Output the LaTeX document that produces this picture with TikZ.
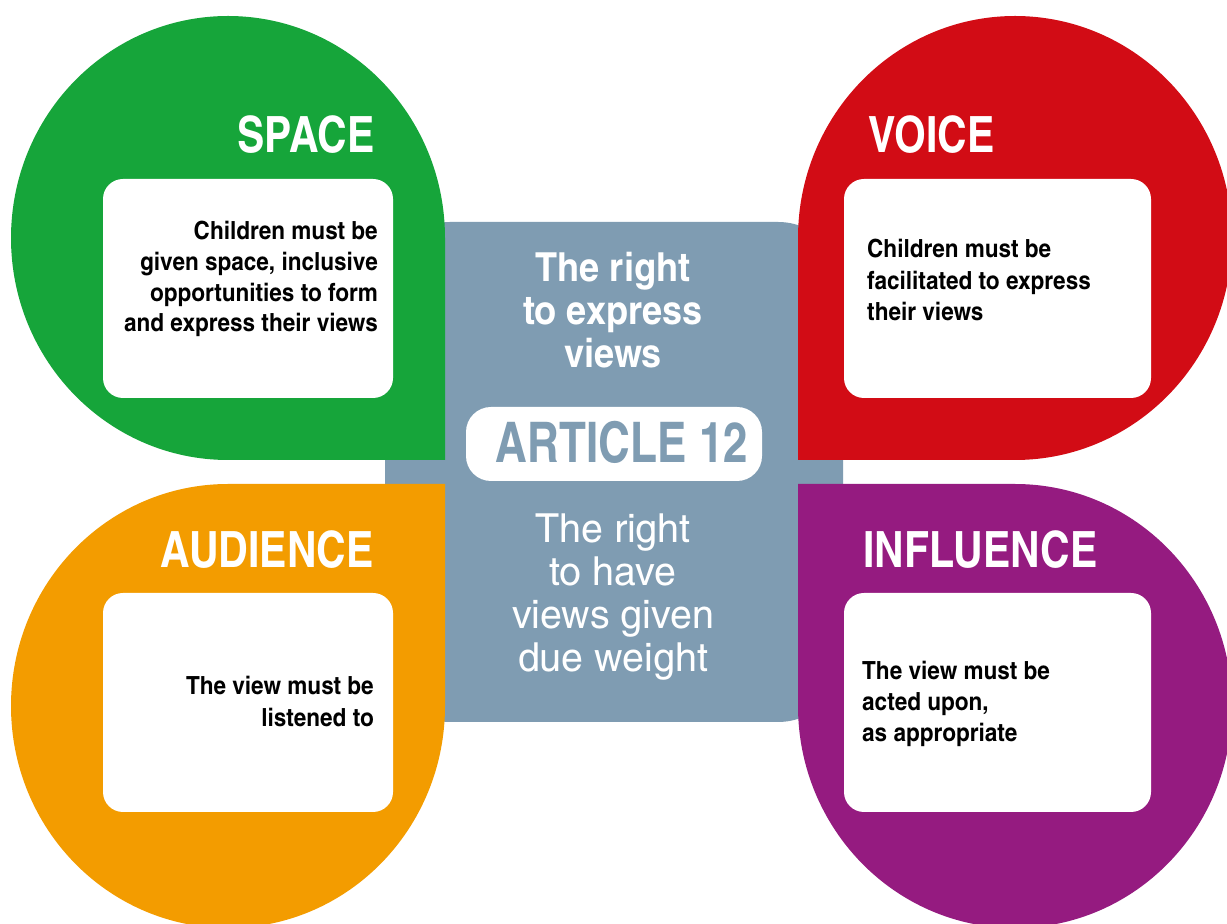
\documentclass[tikz,border=0pt]{standalone}
\usepackage{fontspec}
\newfontfamily\hcn{texgyreheroscn}[Extension=.otf, UprightFont=*-regular, BoldFont=*-bold]
\newfontfamily\hcnw{texgyreheroscn}[Extension=.otf, UprightFont=*-regular, BoldFont=*-bold, FakeStretch=1.1]
\newfontfamily\hcnr{texgyreheroscn}[Extension=.otf, UprightFont=*-regular, BoldFont=*-bold, FakeStretch=1.2]
\newfontfamily\hcnn{texgyreheroscn}[Extension=.otf, UprightFont=*-regular, BoldFont=*-bold, FakeStretch=0.96]
\definecolor{cgreen}{RGB}{22,165,58}
\definecolor{cred}{RGB}{210,12,21}
\definecolor{corange}{RGB}{243,156,0}
\definecolor{cpurple}{RGB}{149,27,128}
\definecolor{cgrey}{RGB}{127,156,178}
\tikzset{
  whitebox/.style={fill=white, rounded corners=20pt},
  ptitle/.style={text=white, inner sep=0pt, font=\hcn\bfseries\fontsize{50pt}{50pt}\selectfont},
  pbody/.style={text=black, inner sep=0pt, font=\hcnw\bfseries\fontsize{25pt}{31pt}\selectfont},
  ctext/.style={text=white, inner sep=0pt, align=center},
}
\begin{document}
\begin{tikzpicture}[x=1pt,y=1pt]
\useasboundingbox (0,0) rectangle (1227,924);
\clip (0,0) rectangle (1227,924);
\fill[white] (0,0) rectangle (1227,924);
% central panel
\fill[cgrey, rounded corners=65pt] (385,202) rectangle (843,702);
% petals
\fill[cgreen] (445,464) -- (228,464) arc[start angle=270, end angle=180, x radius=217, y radius=222]
  arc[start angle=180, end angle=90, x radius=217, y radius=222]
  arc[start angle=90, end angle=0, x radius=217, y radius=222] -- cycle;
\fill[cred] (798,464) -- (798,686) arc[start angle=180, end angle=90, x radius=217, y radius=222]
  arc[start angle=90, end angle=0, x radius=217, y radius=222]
  arc[start angle=0, end angle=-90, x radius=217, y radius=222] -- cycle;
\fill[corange] (445,440) -- (228,440) arc[start angle=90, end angle=180, x radius=217, y radius=222]
  arc[start angle=180, end angle=270, x radius=217, y radius=222]
  arc[start angle=270, end angle=360, x radius=217, y radius=222] -- cycle;
\fill[cpurple] (798,440) -- (1015,440) arc[start angle=90, end angle=0, x radius=217, y radius=222]
  arc[start angle=0, end angle=-90, x radius=217, y radius=222]
  arc[start angle=-90, end angle=-180, x radius=217, y radius=222] -- cycle;
% white boxes
\fill[whitebox] (103,526) rectangle (393,745);
\fill[whitebox] (844,526) rectangle (1151,745);
\fill[whitebox] (103,112) rectangle (393,331);
\fill[whitebox] (844,112) rectangle (1151,331);
\fill[white, rounded corners=25pt] (466,443) rectangle (762,517);
% titles
\node[ptitle, anchor=base east] (space) at (375,771) {SPACE};
\node[ptitle, anchor=base west] (voice) at (868,771) {VOICE};
\node[ptitle, anchor=base east] (audience) at (374,356) {AUDIENCE};
\node[ptitle, anchor=base west] (influence) at (863,356) {INFLUENCE};
% bodies (base anchor = last line baseline)
\node[pbody, align=right, anchor=base east, font=\hcnw\bfseries\fontsize{25pt}{30.7pt}\selectfont] (spacetxt) at (378,592) {Children must be\\given space, inclusive\\opportunities to form\\and express their views};
\node[pbody, align=left, anchor=base west, font=\hcnw\bfseries\fontsize{25pt}{31.5pt}\selectfont] (voicetxt) at (867,603) {Children must be\\facilitated to express\\their views};
\node[pbody, align=right, anchor=base east, font=\hcnw\bfseries\fontsize{25pt}{32pt}\selectfont] (audtxt) at (374,197) {The view must be\\listened to};
\node[pbody, align=left, anchor=base west] (inftxt) at (862,182) {The view must be\\acted upon,\\as appropriate};
% centre
\node[ctext, anchor=base, font=\hcnw\bfseries\fontsize{40pt}{43pt}\selectfont] (express) at (613,556) {The right\\to express\\views};
\node[inner sep=0pt, anchor=base, text=cgrey, font=\hcnn\bfseries\fontsize{56pt}{56pt}\selectfont] (article) at (622,461) {ARTICLE 12};
\node[ctext, anchor=base, font=\hcnr\fontsize{40pt}{43pt}\selectfont] (weight) at (613,252) {The right\\to have\\views given\\due weight};
\end{tikzpicture}
\end{document}
